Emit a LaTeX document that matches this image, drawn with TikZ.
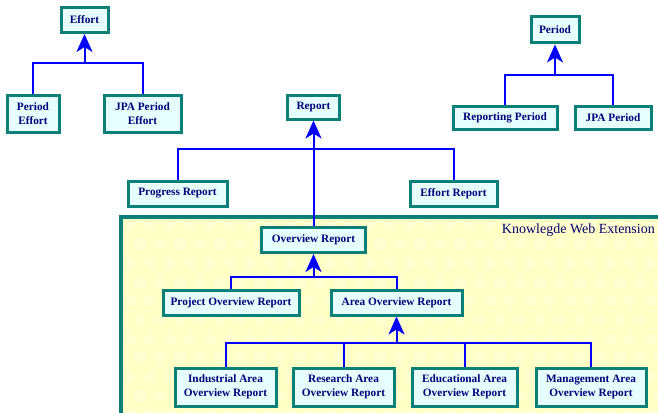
\documentclass[tikz,border=0pt]{standalone}
\usepackage{fontspec}
\setmainfont{Liberation Serif}
\usetikzlibrary{arrows.meta}
\definecolor{boxborder}{HTML}{0A8078}
\definecolor{boxfill}{HTML}{E6FEFE}
\definecolor{txt}{HTML}{00007A}
\definecolor{conn}{HTML}{0000FF}
\definecolor{extfill}{HTML}{FFFFC6}
\tikzset{
  cls/.style={draw=boxborder, line width=3pt, fill=boxfill, text=txt,
    font=\fontsize{11.3}{14.5}\selectfont\bfseries, align=center, inner sep=1pt},
  link/.style={draw=conn, line width=2pt},
  arr/.style={draw=conn, line width=2pt, -{Stealth[length=18pt,width=16pt,inset=5pt]}},
}
\begin{document}
\begin{tikzpicture}[x=1pt,y=-1pt]
\useasboundingbox (0,0) rectangle (658,412);
% extension area
\begin{scope}
\clip (119,215) rectangle (658,412);
\fill[extfill] (119,215) rectangle (670,420);
\foreach \i in {0,...,28} {
  \foreach \j in {0,...,10} {
    \fill[white, opacity=0.18] ({130+\i*20+mod(\j,2)*10},{225+\j*19}) circle (6);
  }
}
\draw[boxborder, line width=4pt] (121,430) -- (121,217) -- (680,217);
\end{scope}
\node[text=txt, font=\fontsize{14}{16}\selectfont, anchor=east, inner sep=0pt] (extlabel) at (655,230) {Knowlegde Web Extension};

% Effort tree
\node[cls, minimum width=47pt, minimum height=25pt] (eff) at (84.5,20) {Effort};
\node[cls, minimum width=52pt, minimum height=37pt] (pe) at (33,113.5) {Period\\Effort};
\node[cls, minimum width=77pt, minimum height=37pt] (jpe) at (142.5,113.5) {JPA Period\\Effort};
\coordinate (b1) at (84.5,63);
\draw[link] (pe.north) |- (b1) -| (jpe.north);
\draw[arr] (b1) -- (eff.south);

% Period tree
\node[cls, minimum width=48pt, minimum height=26pt] (per) at (555,30) {Period};
\node[cls, minimum width=104pt, minimum height=23pt] (rp) at (505,117.5) {Reporting Period};
\node[cls, minimum width=76pt, minimum height=23pt] (jp) at (613,117.5) {JPA Period};
\coordinate (b2) at (555,75);
\draw[link] (rp.north) |- (b2) -| (jp.north);
\draw[arr] (b2) -- (per.south);

% Report tree
\node[cls, minimum width=52pt, minimum height=24pt] (rep) at (313.5,107) {Report};
\node[cls, minimum width=99pt, minimum height=25pt] (pr) at (177.5,193.5) {Progress Report};
\node[cls, minimum width=87pt, minimum height=25pt] (er) at (453.5,193.5) {Effort Report};
\node[cls, minimum width=104pt, minimum height=25pt] (ov) at (313.5,240) {Overview Report};
\coordinate (b3) at (313.5,149);
\draw[link] (pr.north) |- (b3) -| (er.north);
\draw[arr] (ov.north) -- (rep.south);

% Overview tree
\node[cls, minimum width=136pt, minimum height=25pt] (pov) at (231,302.5) {Project Overview Report};
\node[cls, minimum width=131pt, minimum height=25pt] (aov) at (396.5,302.5) {Area Overview Report};
\coordinate (b4) at (313.5,277);
\draw[link] (pov.north) |- (b4) -| (aov.north);
\draw[arr] (b4) -- (ov.south);

% Area tree
\node[cls, minimum width=101pt, minimum height=38pt] (ia) at (225.5,387) {Industrial Area\\Overview Report};
\node[cls, minimum width=101pt, minimum height=38pt] (ra) at (343.5,387) {Research Area\\Overview Report};
\node[cls, minimum width=105pt, minimum height=38pt] (ea) at (464.5,387) {Educational Area\\Overview Report};
\node[cls, minimum width=110pt, minimum height=38pt] (ma) at (591,387) {Management Area\\Overview Report};
\coordinate (b5) at (396.5,343);
\draw[link] (ia.north) |- (b5) -| (ma.north);
\draw[link] (ra.north) -- (ra.north |- b5);
\draw[link] (ea.north) -- (ea.north |- b5);
\draw[arr] (b5) -- (aov.south);
\end{tikzpicture}
\end{document}
